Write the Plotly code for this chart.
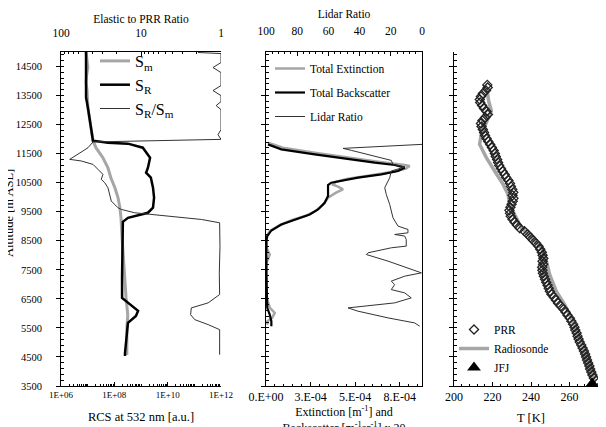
import plotly.graph_objects as go

# ---------------- Panel a data ----------------
sm_alt = [15000, 14704, 14464, 14188, 13948, 13672, 13086, 12396, 11947, 11706, 11362, 11016,
          10672, 10327, 9982, 9638, 9292, 8603, 7568, 6534, 5939, 5500, 4569]
sm_rcs = [8.7e6, 9.5e6, 1.02e7, 9.1e6, 8.7e6, 9.5e6, 1.02e7, 1.33e7, 1.58e7, 2.04e7, 3.72e7, 5.75e7,
          7.41e7, 1.05e8, 1.38e8, 1.62e8, 1.78e8, 1.95e8, 2.29e8, 2.75e8, 3.2e8, 2.95e8, 2.95e8]

sr_alt = [15000, 13430, 13086, 12396, 11947, 11878, 11844, 11706, 11362, 11016, 10844, 10672,
          10327, 9982, 9638, 9465, 9292, 9154, 8517, 7914, 7280, 6534, 6362, 6086, 5913, 5672,
          4638, 4535]
sr_rcs = [8.7e6, 8.7e6, 1.02e7, 1.33e7, 1.58e7, 5.75e7, 3.24e8, 1.17e9, 2.19e9, 1.82e9, 1.55e9, 2.34e9,
          2.82e9, 3.09e9, 2.82e9, 1.82e9, 3.24e8, 2.09e8, 2.0e8, 1.95e8, 1.95e8, 1.95e8, 3.24e8, 7.76e8,
          6.46e8, 3.24e8, 2.51e8, 2.51e8]

ratio_alt = [14982, 14947, 14637, 14465, 14292, 13844, 13672, 13499, 13293, 13155, 13016, 12327,
             12154, 11992, 11903, 11706, 11593, 11361, 11303, 11248, 11189, 11130, 10958, 10786,
             10613, 10500, 10327, 10096, 9868, 9637, 9579, 9465, 9351, 9234, 9120, 8311, 7383,
             6648, 6362, 6189, 5958, 5786, 5614, 5441, 5011, 4579]
ratio_val = [1.94, 1.0, 1.0, 1.26, 1.0, 1.0, 1.26, 1.0, 1.0, 1.15, 1.0, 1.0,
             1.09, 1.0, 39.8, 45.9, 53.1, 74.3, 77.9, 55.8, 45.9, 39.8, 34.5, 29.9,
             31.4, 28.4, 25.9, 24.6, 23.5, 19.4, 17.6, 12.0, 4.6, 1.76, 1.04, 1.03, 1.05,
             1.04, 1.45, 2.35, 2.4, 2.13, 1.45, 1.04, 1.04, 1.04]

# ---------------- Panel b data ----------------
ext_alt = [11879, 11706, 11534, 11361, 11224, 11120, 11075, 10982, 10879, 10741, 10637, 10534,
           10430, 10362, 10268, 10155, 9982, 9741, 9534, 9362, 9224, 9051, 8844, 8638, 8258,
           8027, 7741, 6534, 6189, 6017, 5845, 5707, 5614]
ext_val = [1.1e-5, 9.5e-5, 2.73e-4, 4.60e-4, 6.28e-4, 7.68e-4, 8.06e-4, 7.85e-4, 7.12e-4, 5.72e-4,
           4.60e-4, 3.93e-4, 3.76e-4, 4.04e-4, 4.32e-4, 3.93e-4, 3.48e-4, 3.20e-4, 2.80e-4, 2.24e-4,
           1.51e-4, 7.9e-5, 2.2e-5, 3e-6, 3e-6, 2.1e-5, 3e-6, 3e-6, 2.2e-5, 4.9e-5, 3.4e-5, 3e-6, 1.1e-5]

bsc_alt = [11820, 11648, 11475, 11303, 11189, 11110, 11041, 11017, 10903, 10786, 10672, 10579,
           10500, 10420, 10268, 10041, 9810, 9579, 9406, 9234, 9062, 8855, 8662, 8489, 7338,
           6189, 5958, 5731, 5558]
bsc_val = [1.1e-5, 8.6e-5, 2.73e-4, 4.60e-4, 6.10e-4, 7.22e-4, 7.68e-4, 7.78e-4, 7.40e-4, 6.47e-4,
           5.16e-4, 4.22e-4, 3.66e-4, 3.48e-4, 3.48e-4, 3.48e-4, 3.29e-4, 2.92e-4, 2.45e-4, 1.61e-4,
           8.6e-5, 3.0e-5, 7e-6, 2e-6, 2e-6, 7e-6, 2.1e-5, 3.0e-5, 3.0e-5]

lr_alt = [11820, 11682, 11613, 11361, 11268, 11130, 11041, 10903, 10672, 10327, 10096, 9751, 9293,
          9006, 8889, 8775, 8717, 8662, 8544, 8317, 8258, 8086, 8027, 7800, 7569, 7396, 7282, 7110,
          6993, 6820, 6707, 6534, 6362, 6248, 6189, 6076, 5845, 5672, 5558]
lr_val = [0.0, 50.6, 45.3, 26.1, 19.7, 18.6, 11.1, 19.7, 20.7, 23.9, 22.9, 20.7, 18.6,
          15.4, 9.0, 9.0, 17.5, 11.1, 10.1, 10.1, 19.7, 34.6, 35.7, 21.8, 9.0, 0.4, 11.1, 19.7,
          17.5, 19.7, 11.1, 6.9, 17.5, 36.7, 47.4, 41.0, 21.8, 4.7, 1.5]

# ---------------- Panel c data ----------------
prr_alt = [13868, 13776, 13672, 13569, 13466, 13363, 13260, 13157, 13054, 12951, 12848, 12744,
           12641, 12538, 12435, 12332, 12229, 12126, 12023, 11920, 11816, 11713, 11610, 11507,
           11404, 11301, 11198, 11095, 10992, 10888, 10785, 10682, 10579, 10476, 10373, 10270,
           10167, 10064, 9961, 9857, 9754, 9651, 9548, 9445, 9342, 9239, 9136, 9033, 8929,
           8826, 8723, 8620, 8517, 8414, 8311, 8208, 8105, 8001, 7898, 7795, 7692, 7589, 7486,
           7383, 7280, 7177, 7073, 6970, 6867, 6764, 6661, 6558, 6455, 6352, 6249, 6145, 6042,
           5939, 5836, 5733, 5630, 5527, 5424, 5321, 5217, 5114, 5011, 4908, 4805, 4702, 4599,
           4496, 4393, 4289, 4186, 4083, 3980, 3877, 3774, 3681]
prr_t = [217.3, 217.5, 216.6, 215.0, 214.0, 213.4, 213.6, 214.6, 215.6, 216.9, 217.6, 216.2,
         214.8, 214.0, 214.3, 215.0, 215.6, 216.1, 216.9, 217.8, 218.8, 219.7, 220.6, 221.2,
         221.7, 222.4, 222.9, 223.5, 224.4, 225.3, 226.3, 227.1, 228.3, 229.1, 229.6, 230.3,
         230.8, 230.4, 230.9, 230.5, 229.9, 229.3, 228.8, 229.1, 229.5, 230.4, 231.5, 232.8, 234.2,
         236.6, 238.2, 239.7, 241.1, 242.6, 243.9, 244.8, 245.6, 246.0, 246.4, 246.0, 246.3, 245.8, 245.9,
         246.2, 246.7, 247.3, 247.9, 248.6, 249.2, 249.8, 250.6, 251.9, 253.0, 254.1, 255.5, 256.9, 258.0,
         259.0, 260.2, 261.0, 261.9, 262.6, 263.0, 263.7, 264.2, 264.7, 265.3, 266.1, 266.8, 267.5, 268.1,
         268.6, 269.1, 269.7, 270.3, 270.7, 271.3, 271.9, 272.6, 273.9]

sonde_alt = [13755, 13317, 12971, 12683, 12165, 11821, 11592, 11362, 10903, 10442, 10097, 9751,
             9407, 8948, 8604, 8258, 7799, 7337, 6765, 6304, 5844, 5270, 4702, 4135, 3671]
sonde_t = [217.0, 218.0, 219.4, 217.7, 214.2, 213.3, 215.1, 216.8, 221.1, 225.5, 228.1, 228.9,
           231.5, 235.0, 240.2, 245.4, 248.0, 249.7, 253.1, 257.5, 260.9, 264.4, 267.5, 270.5, 273.0]

jfj_alt = [3580]
jfj_t = [271.8]

# tick labels
rcs_ticks = [1e6, 1e8, 1e10, 1e12]
rcs_ticktext = ["1E+06", "1E+08", "1E+10", "1E+12"]
ratio_ticks = [100, 10, 1]
ratio_ticktext = ["100", "10", "1"]
ext_ticks = [0, 2.5e-4, 5e-4, 7.5e-4]
ext_ticktext = ["0.E+00", "3.E-04", "5.E-04", "8.E-04"]
lr_ticks = [100, 80, 60, 40, 20, 0]
alt_ticks = [3500, 4500, 5500, 6500, 7500, 8500, 9500, 10500, 11500, 12500, 13500, 14500]
alt_ticktext = [str(v) for v in alt_ticks]

FONT = "Liberation Serif, Times New Roman, serif"
GRAY = "#a6a6a6"
DARK = "#333333"
W, H = 606, 427


def px_x(p):
    return p / W


def px_y(p):
    return (H - p) / H


dom_y = [px_y(378), px_y(44)]
dom_a = [px_x(53), px_x(213)]
dom_b = [px_x(258), px_x(414)]
dom_c = [px_x(446), px_x(600)]

fig = go.Figure()

# Panel a
fig.add_trace(go.Scatter(x=sm_rcs, y=sm_alt, mode="lines", name="S<sub>m</sub>",
                         line=dict(color=GRAY, width=3), xaxis="x", yaxis="y", legend="legend",
                         legendgroup="a1"))
fig.add_trace(go.Scatter(x=sr_rcs, y=sr_alt, mode="lines", name="S<sub>R</sub>",
                         line=dict(color="black", width=2.5), xaxis="x", yaxis="y", legend="legend",
                         legendgroup="a2"))
fig.add_trace(go.Scatter(x=ratio_val, y=ratio_alt, mode="lines", name="S<sub>R</sub>/S<sub>m</sub>",
                         line=dict(color=DARK, width=1), xaxis="x2", yaxis="y", legend="legend",
                         legendgroup="a3"))

# Panel b
fig.add_trace(go.Scatter(x=ext_val, y=ext_alt, mode="lines", name="Total Extinction",
                         line=dict(color=GRAY, width=2.5), xaxis="x3", yaxis="y2", legend="legend2",
                         legendgroup="b1"))
fig.add_trace(go.Scatter(x=bsc_val, y=bsc_alt, mode="lines", name="Total Backscatter",
                         line=dict(color="black", width=2.2), xaxis="x3", yaxis="y2", legend="legend2",
                         legendgroup="b2"))
fig.add_trace(go.Scatter(x=lr_val, y=lr_alt, mode="lines", name="Lidar Ratio",
                         line=dict(color=DARK, width=1), xaxis="x4", yaxis="y2", legend="legend2",
                         legendgroup="b3"))

# Panel c
fig.add_trace(go.Scatter(x=sonde_t, y=sonde_alt, mode="lines", name="Radiosonde",
                         line=dict(color=GRAY, width=3.5), xaxis="x5", yaxis="y3", legend="legend3",
                         legendrank=2))
fig.add_trace(go.Scatter(x=prr_t, y=prr_alt, mode="markers", name="PRR",
                         marker=dict(symbol="diamond-open", size=7, color="#222222", line=dict(width=1.3)),
                         xaxis="x5", yaxis="y3", legend="legend3", legendrank=1))
fig.add_trace(go.Scatter(x=jfj_t, y=jfj_alt, mode="markers", name="JFJ",
                         marker=dict(symbol="triangle-up", size=12, color="black"),
                         xaxis="x5", yaxis="y3", legend="legend3", legendrank=3, cliponaxis=False))

axis_common = dict(showgrid=False, zeroline=False, showline=True, linecolor="black", linewidth=1,
                   tickcolor="black", automargin=False, ticklabeloverflow="allow",
                   tickfont=dict(family=FONT, size=12, color="black"))
frame_axis = dict(showline=True, linecolor=GRAY, linewidth=1.5, showticklabels=False, ticks="",
                  showgrid=False, zeroline=False, automargin=False)

rcs_minor = [m * 10 ** e for e in range(6, 12) for m in range(2, 10)] + [10 ** e for e in range(7, 12, 2)]
ratio_minor = [m * 10 ** e for e in range(0, 2) for m in range(2, 10)]

yax = dict(axis_common, range=[3500, 15000], tickvals=alt_ticks, ticktext=alt_ticktext,
           ticks="outside", ticklen=4,
           minor=dict(ticks="inside", ticklen=3, dtick=200, tick0=3500, tickcolor="black"))

fig.update_layout(
    width=W, height=H, margin=dict(l=0, r=0, t=0, b=0, autoexpand=False),
    paper_bgcolor="white", plot_bgcolor="white",
    font=dict(family=FONT, color="black"),
    xaxis=dict(axis_common, domain=dom_a, anchor="y", type="log", range=[6, 12],
               tickvals=rcs_ticks, ticktext=rcs_ticktext, ticks="inside", ticklen=4,
               tickfont=dict(family=FONT, size=9, color="black"),
               minor=dict(ticks="inside", ticklen=2, tickvals=rcs_minor, tickcolor="black"),
               title=dict(text="RCS at 532 nm [a.u.]", font=dict(size=12.5), standoff=13)),
    xaxis2=dict(axis_common, overlaying="x", side="top", anchor="y", type="log", range=[2, 0],
                tickvals=ratio_ticks, ticktext=ratio_ticktext, ticks="inside", ticklen=4,
                tickfont=dict(family=FONT, size=11.5, color="black"), ticklabelstandoff=9,
                minor=dict(ticks="inside", ticklen=2, tickvals=ratio_minor, tickcolor="black"),
                title=dict(text="Elastic to PRR Ratio", font=dict(size=11.5), standoff=1)),
    yaxis=dict(yax, domain=dom_y, anchor="x", tickfont=dict(family=FONT, size=10.5, color="black"),
               ticklabelstandoff=12),
    yaxis4=dict(frame_axis, overlaying="y", side="right", anchor="x", range=[3500, 15000]),
    xaxis3=dict(axis_common, domain=dom_b, anchor="y2", range=[0, 8.75e-4],
                tickvals=ext_ticks, ticktext=ext_ticktext, ticks="inside", ticklen=4,
                minor=dict(ticks="inside", ticklen=2, dtick=0.5e-4, tick0=0, tickcolor="black"),
                title=dict(text="Extinction [m<sup>-1</sup>] and<br>Backscatter [m<sup>-1</sup>sr<sup>-1</sup>] x 20",
                           font=dict(size=12), standoff=13)),
    xaxis4=dict(axis_common, overlaying="x3", side="top", anchor="y2", range=[100, 0],
                tickvals=lr_ticks, ticks="inside", ticklen=4,
                tickfont=dict(family=FONT, size=11.5, color="black"), ticklabelstandoff=11,
                minor=dict(ticks="inside", ticklen=2, dtick=4, tick0=0, tickcolor="black"),
                title=dict(text="Lidar Ratio", font=dict(size=11.5), standoff=14)),
    yaxis2=dict(yax, domain=dom_y, anchor="x3", showticklabels=False, mirror=True),
    xaxis5=dict(axis_common, domain=dom_c, anchor="y3", range=[200, 280], dtick=20, tick0=200,
                ticks="inside", ticklen=4,
                minor=dict(ticks="inside", ticklen=2, dtick=4, tick0=200, tickcolor="black"),
                title=dict(text="T [K]", font=dict(size=12.5), standoff=9)),
    xaxis6=dict(frame_axis, overlaying="x5", side="top", anchor="y3", range=[200, 280]),
    yaxis3=dict(yax, domain=dom_y, anchor="x5", showticklabels=False),
    yaxis5=dict(frame_axis, overlaying="y3", side="right", anchor="x5", range=[3500, 15000]),
    legend=dict(x=px_x(87), y=px_y(36), xanchor="left", yanchor="top", bgcolor="rgba(0,0,0,0)",
                font=dict(family=FONT, size=16, color="black"), tracegroupgap=0,
                itemwidth=30),
    legend2=dict(x=px_x(262), y=px_y(46), xanchor="left", yanchor="top", bgcolor="rgba(0,0,0,0)",
                 font=dict(family=FONT, size=11.5, color="black"), tracegroupgap=5,
                 itemwidth=30),
    legend3=dict(x=px_x(446), y=px_y(307), xanchor="left", yanchor="top", bgcolor="rgba(0,0,0,0)",
                 font=dict(family=FONT, size=11.5, color="black"), tracegroupgap=0,
                 itemwidth=30),
    annotations=[
        dict(text="Altitude [m ASL]", x=px_x(1), y=px_y(205), xref="paper", yref="paper",
             textangle=-90, showarrow=False, xanchor="center", yanchor="middle",
             font=dict(family=FONT, size=12.5, color="black")),
        dict(text="<b>a</b>", x=px_x(2), y=px_y(421), xref="paper", yref="paper", showarrow=False,
             xanchor="center", yanchor="top", font=dict(family=FONT, size=14, color="black")),
        dict(text="<b>b</b>", x=px_x(238), y=px_y(421), xref="paper", yref="paper", showarrow=False,
             xanchor="center", yanchor="top", font=dict(family=FONT, size=14, color="black")),
        dict(text="<b>c</b>", x=px_x(437), y=px_y(421), xref="paper", yref="paper", showarrow=False,
             xanchor="center", yanchor="top", font=dict(family=FONT, size=14, color="black")),
    ],
)

fig.write_html("out.html")
